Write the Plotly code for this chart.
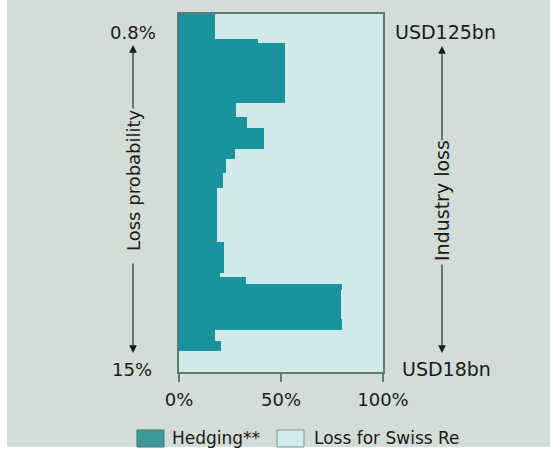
import plotly.graph_objects as go

# Scenario bands, from the 0.8% loss-probability end (0) to the 15% end (100)
band_edges = [0, 7.0, 8.1, 24.9, 28.8, 31.8, 37.7, 40.5, 44.4, 48.6,
              63.7, 72.3, 73.5, 75.4, 77.1, 85.2, 88.3, 91.3, 94.1, 100]
# Share of each band's loss that is hedged (%)
hedging = [17.4, 38.6, 51.8, 27.8, 33.2, 41.5, 27.3, 22.9, 21.4, 18.4,
           21.9, 19.9, 32.7, 79.9, 79.4, 79.9, 17.4, 20.4, 0]
loss_swiss_re = [100 - h for h in hedging]

x_ticks = [0, 50, 100]
x_tick_labels = ["0%", "50%", "100%"]

centers = [(a + b) / 2 for a, b in zip(band_edges[:-1], band_edges[1:])]
widths = [b - a for a, b in zip(band_edges[:-1], band_edges[1:])]

TEAL = "#1a949c"
LIGHT = "#d0eaea"
PANEL = "#d3dcd7"
FRAME = "#5e7a74"
INK = "#1a1a1a"
FONT = "DejaVu Sans"

W_FIG, H_FIG = 550, 449
L, R, T, B = 179, 383, 14, 372


def px_x(x):
    return (x - L) / (R - L)


def px_y(y):
    return (B - y) / (B - T)


fig = go.Figure()
fig.add_trace(go.Bar(y=centers, x=hedging, width=widths, orientation="h",
                     name="Hedging**", marker=dict(color=TEAL, line=dict(width=0))))
fig.add_trace(go.Bar(y=centers, x=loss_swiss_re, width=widths, orientation="h",
                     name="Loss for Swiss Re", marker=dict(color=LIGHT, line=dict(width=0))))

shapes = [
    # grey panel behind everything
    dict(type="rect", xref="paper", yref="paper", x0=px_x(7), x1=px_x(552),
         y0=px_y(447), y1=px_y(-2), fillcolor=PANEL, line=dict(width=0), layer="below"),
    # legend swatches
    dict(type="rect", xref="paper", yref="paper", x0=px_x(137), x1=px_x(164),
         y0=px_y(447), y1=px_y(430), fillcolor="#3c9a9d", line=dict(color="#4d6e6a", width=1)),
    dict(type="rect", xref="paper", yref="paper", x0=px_x(277), x1=px_x(304),
         y0=px_y(447), y1=px_y(430), fillcolor="#d2ecec", line=dict(color="#7f9590", width=1)),
]

txt = dict(family=FONT, size=18, color=INK)
ann = []


def label(x, y, s, angle=0, size=18, anchor="center"):
    ann.append(dict(x=px_x(x), y=px_y(y), xref="paper", yref="paper", text=s,
                    showarrow=False, textangle=angle, xanchor=anchor, yanchor="middle",
                    font=dict(family=FONT, size=size, color=INK)))


def arrow(x, y_head, y_tail):
    ann.append(dict(x=px_x(x), y=px_y(y_head), xref="paper", yref="paper", text="",
                    showarrow=True, ax=0, ay=y_tail - y_head, arrowhead=2,
                    arrowsize=1.4, arrowwidth=1.1, arrowcolor=INK, standoff=0))


label(133, 32, "0.8%")
label(132, 369, "15%")
label(133, 180, "Loss probability", angle=-90)
arrow(133, 45, 110)
arrow(133, 353, 262)

label(445, 32, "USD125bn", size=19)
label(446, 369, "USD18bn", size=19)
label(442, 201, "Industry loss", angle=-90, size=19)
arrow(442, 46, 142)
arrow(442, 353, 263)

label(170, 438, "Hedging**", size=17, anchor="left")
label(312, 438, "Loss for Swiss Re", size=17, anchor="left")

fig.update_layout(
    width=W_FIG, height=H_FIG,
    margin=dict(l=L, r=W_FIG - R, t=T, b=H_FIG - B, pad=0),
    barmode="stack", bargap=0,
    showlegend=False,
    paper_bgcolor="white", plot_bgcolor=LIGHT,
    shapes=shapes, annotations=ann,
    font=txt,
)
fig.update_xaxes(range=[0, 100], tickvals=x_ticks, ticktext=x_tick_labels,
                 ticks="outside", ticklen=8, tickwidth=1.5, tickcolor=FRAME,
                 showline=True, linecolor=FRAME, linewidth=1.5, mirror=True,
                 showgrid=False, zeroline=False, ticklabelstandoff=3,
                 tickfont=dict(family=FONT, size=18, color=INK), fixedrange=True)
fig.update_yaxes(range=[100, 0], showticklabels=False, ticks="",
                 showline=True, linecolor=FRAME, linewidth=1.5, mirror=True,
                 showgrid=False, zeroline=False, fixedrange=True)

fig.write_html("out.html")
